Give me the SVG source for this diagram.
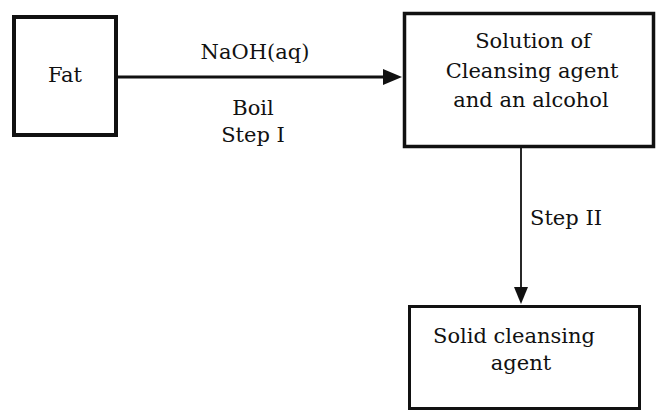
<svg xmlns="http://www.w3.org/2000/svg" width="656" height="412" viewBox="0 0 656 412">
<style>
  .box { fill: #ffffff; stroke: #111111; }
  .t { font-family: "DejaVu Serif", "Liberation Serif", serif; font-size: 21px; fill: #111111; text-anchor: middle; }
  .line { stroke: #111111; fill: none; }
  .head { fill: #111111; stroke: none; }
</style>
<rect x="0" y="0" width="656" height="412" fill="#ffffff"/>
<g id="connectors">
  <line class="line" x1="118" y1="77" x2="386" y2="77" stroke-width="3"/>
  <polygon class="head" points="402,77 383,69 383,85"/>
  <text class="t" x="255" y="59" font-size="23px">NaOH(aq)</text>
  <text class="t" x="253" y="115">Boil</text>
  <text class="t" x="253" y="142">Step I</text>
  <line class="line" x1="521" y1="148" x2="521" y2="290" stroke-width="1.8"/>
  <polygon class="head" points="521,304 514,287 528,287"/>
  <text class="t" x="566" y="225">Step II</text>
</g>
<g id="node-fat">
  <rect class="box" x="14" y="17" width="102" height="118" stroke-width="4"/>
  <text class="t" x="65" y="82">Fat</text>
</g>
<g id="node-solution">
  <rect class="box" x="404.5" y="13.5" width="249" height="133" stroke-width="3.5"/>
  <text class="t" x="533" y="48">Solution of</text>
  <text class="t" x="532" y="78">Cleansing agent</text>
  <text class="t" x="531" y="107">and an alcohol</text>
</g>
<g id="node-solid">
  <rect class="box" x="409.5" y="306.5" width="230" height="102" stroke-width="3"/>
  <text class="t" x="514" y="343" font-size="21.5px">Solid cleansing</text>
  <text class="t" x="521" y="370" font-size="21.5px">agent</text>
</g>
</svg>
